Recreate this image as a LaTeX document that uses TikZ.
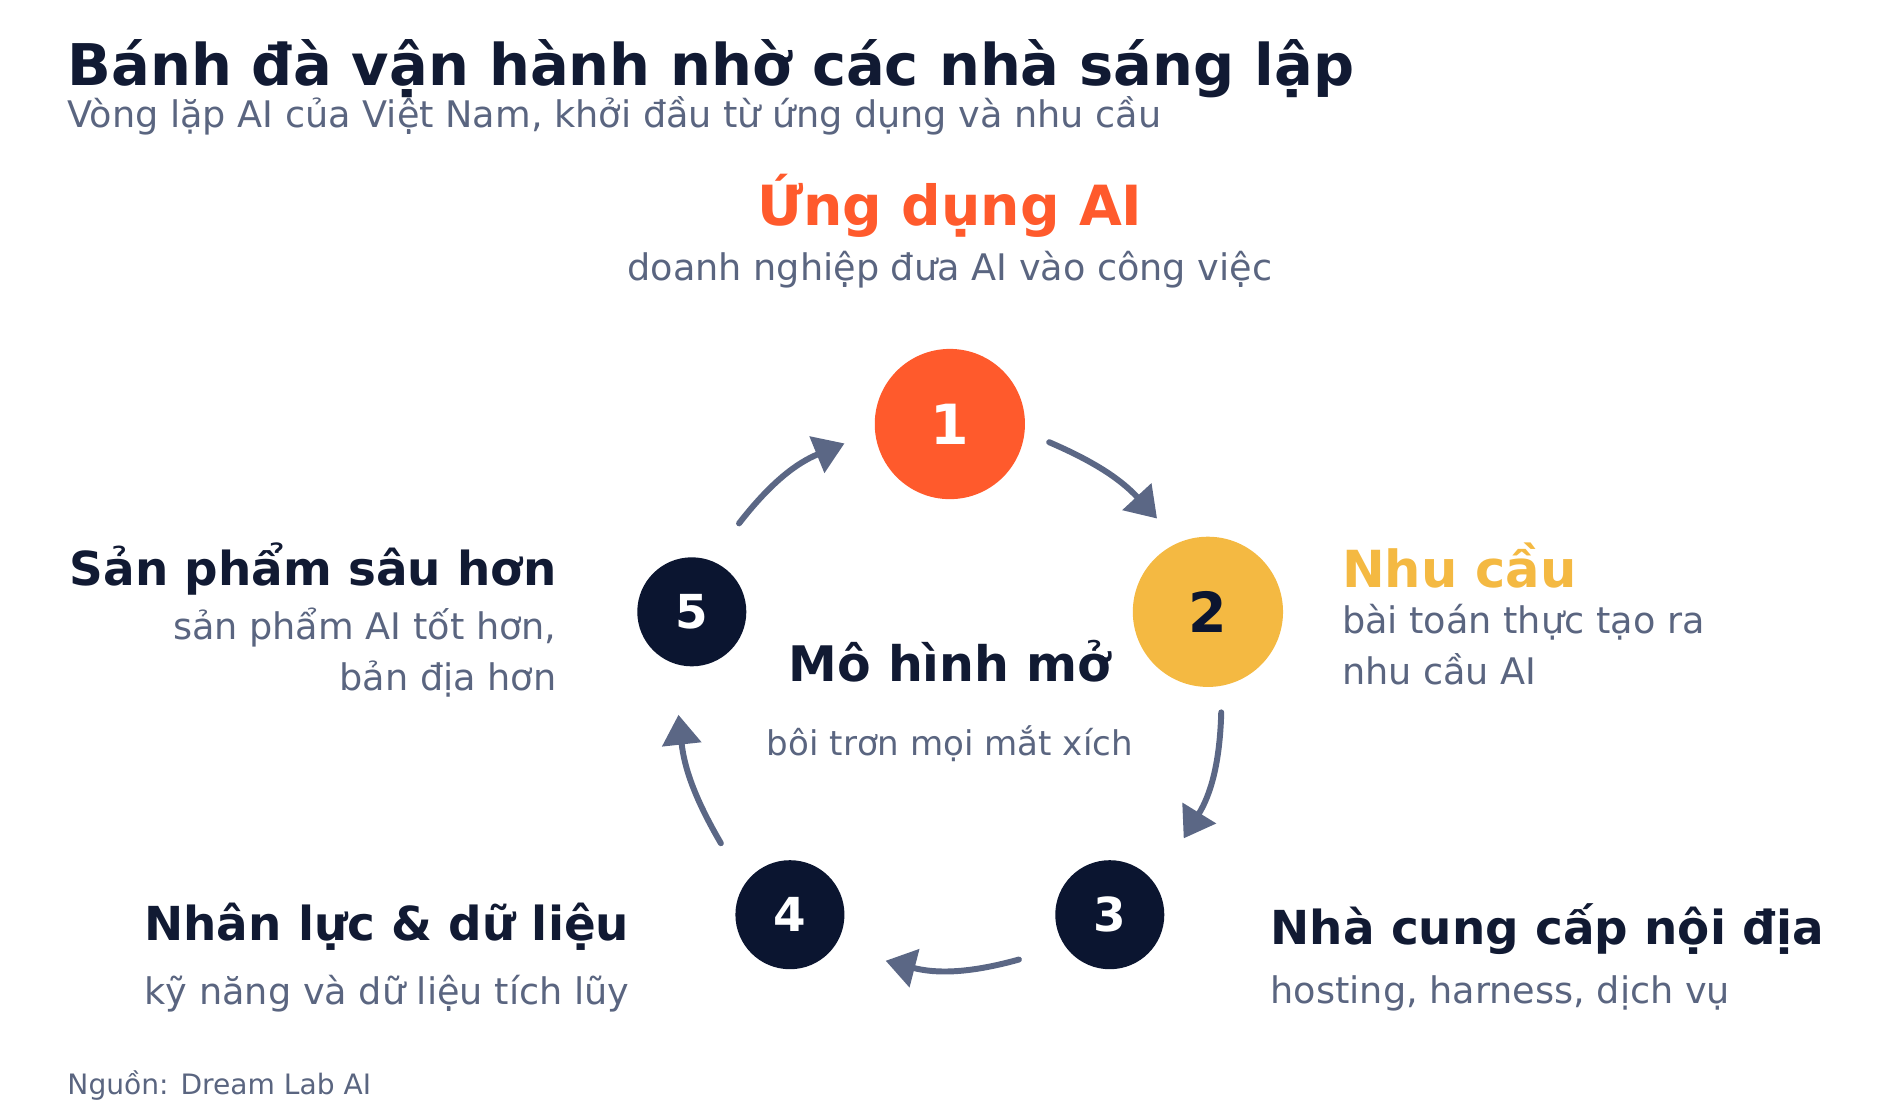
\documentclass[tikz,border=0pt]{standalone}
\usepackage{fontspec}
\setmainfont{DejaVu Sans}
\usetikzlibrary{arrows.meta}
\definecolor{navy}{HTML}{111A33}
\definecolor{dark}{HTML}{0B1530}
\definecolor{greytext}{HTML}{5A6580}
\definecolor{arrowgrey}{HTML}{5B6785}
\definecolor{orange}{HTML}{FF5A2C}
\definecolor{yellow}{HTML}{F4B942}
\tikzset{
  stage/.style={circle, fill=dark, text=white, minimum size=0.9cm, inner sep=0pt, font=\bfseries\fontsize{11pt}{12pt}\selectfont},
  bigstage/.style={stage, minimum size=1.24cm, font=\bfseries\fontsize{13pt}{14pt}\selectfont},
  head/.style={font=\bfseries\fontsize{11pt}{13pt}\selectfont, text=navy, inner sep=0pt},
  sub/.style={font=\fontsize{8.6pt}{12pt}\selectfont, text=greytext, inner sep=0pt},
  flow/.style={-{Triangle[length=7pt,width=9pt]}, line width=1.4pt, arrowgrey, line cap=round}
}
\begin{document}
\begin{tikzpicture}
\useasboundingbox (0,0) rectangle (15.6,-9.16);

%title
\node[anchor=west, inner sep=0pt, text=navy, font=\bfseries\fontsize{13.5pt}{15pt}\selectfont] (title) at (0.55,-0.57) {Bánh đà vận hành nhờ các nhà sáng lập};
\node[anchor=west, sub] (subtitle) at (0.55,-0.96) {Vòng lặp AI của Việt Nam, khởi đầu từ ứng dụng và nhu cầu};

%the stages
\node[bigstage, fill=orange] (s1) at (7.84,-3.50) {1};
\node[bigstage, fill=yellow, text=dark] (s2) at (9.97,-5.05) {2};
\node[stage] (s3) at (9.16,-7.55) {3};
\node[stage] (s4) at (6.52,-7.55) {4};
\node[stage] (s5) at (5.71,-5.05) {5};

%labels
\node[head, text=orange, font=\bfseries\fontsize{13pt}{15pt}\selectfont] (l1) at (7.84,-1.70) {Ứng dụng AI};
\node[sub] (d1) at (7.84,-2.23) {doanh nghiệp đưa AI vào công việc};

\node[head, text=yellow, anchor=west, font=\bfseries\fontsize{12pt}{14pt}\selectfont] (l2) at (11.07,-4.67) {Nhu cầu};
\node[sub, anchor=north west, align=left] (d2) at (11.07,-4.98) {bài toán thực tạo ra\\nhu cầu AI};

\node[head, anchor=west] (l3) at (10.48,-7.67) {Nhà cung cấp nội địa};
\node[sub, anchor=west] (d3) at (10.48,-8.20) {hosting, harness, dịch vụ};

\node[head, anchor=east] (l4) at (5.20,-7.65) {Nhân lực \& dữ liệu};
\node[sub, anchor=east] (d4) at (5.20,-8.20) {kỹ năng và dữ liệu tích lũy};

\node[head, anchor=east] (l5) at (4.60,-4.70) {Sản phẩm sâu hơn};
\node[sub, anchor=north east, align=right] (d5) at (4.60,-5.01) {sản phẩm AI tốt hơn,\\bản địa hơn};

%centre
\node[head, font=\bfseries\fontsize{11.5pt}{13pt}\selectfont] (hub) at (7.84,-5.46) {Mô hình mở};
\node[sub, font=\fontsize{8pt}{10pt}\selectfont] (hubsub) at (7.84,-6.14) {bôi trơn mọi mắt xích};

%the loop
\coordinate (a1) at (8.66,-3.65); \coordinate (b1) at (9.55,-4.28);
\coordinate (a2) at (10.08,-5.88); \coordinate (b2) at (9.77,-6.92);
\coordinate (a3) at (8.41,-7.92); \coordinate (b3) at (7.31,-7.93);
\coordinate (a4) at (5.95,-6.96); \coordinate (b4) at (5.60,-5.90);
\coordinate (a5) at (6.10,-4.32); \coordinate (b5) at (6.97,-3.66);
\draw[flow] (a1) to[bend left=12] (b1);
\draw[flow] (a2) to[bend left=15] (b2);
\draw[flow] (a3) to[bend left=15] (b3);
\draw[flow] (a4) to[bend left=12] (b4);
\draw[flow] (a5) to[bend left=15] (b5);

\node[anchor=west, sub, font=\fontsize{6.6pt}{8pt}\selectfont] (source) at (0.55,-8.96) {Nguồn: Dream Lab AI};
\end{tikzpicture}
\end{document}
